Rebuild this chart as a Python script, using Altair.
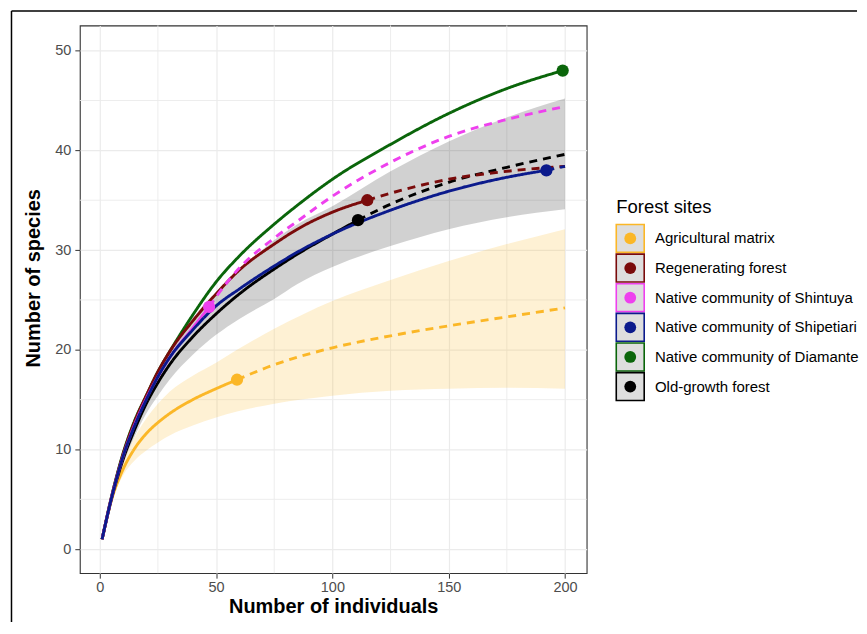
import altair as alt
import pandas as pd

FONT = "Liberation Sans"

SITES = ["Agricultural matrix", "Regenerating forest", "Native community of Shintuya",
         "Native community of Shipetiari", "Native community of Diamante", "Old-growth forest"]
COLORS = ["#FBB727", "#7A0B0B", "#EE40EE", "#0B1A8C", "#0A650A", "#000000"]

# Agricultural matrix
AGR_X_RARE = [1, 5, 10, 15, 20, 25, 30, 40, 50, 59]
AGR_Y_RARE = [1.0, 4.9, 8.0, 10.1, 11.6, 12.7, 13.6, 15.0, 16.1, 17.0]
AGR_X_EXT = [59, 75, 100, 125, 150, 175, 200]
AGR_Y_EXT = [17.0, 18.5, 20.2, 21.4, 22.4, 23.3, 24.2]

# Regenerating forest
REG_X_RARE = [1, 5, 10, 15, 20, 25, 30, 40, 50, 60, 75, 85, 100, 115]
REG_Y_RARE = [1.0, 5.2, 9.5, 12.8, 15.4, 17.8, 19.8, 22.9, 25.6, 28.0, 30.6, 32.1, 33.8, 35.0]
REG_X_EXT = [115, 125, 150, 175, 200]
REG_Y_EXT = [35.0, 35.7, 37.1, 37.9, 38.4]

# Native community of Shintuya
SHN_X_RARE = [1, 5, 10, 15, 20, 25, 30, 40, 47]
SHN_Y_RARE = [1.0, 5.1, 9.3, 12.5, 15.1, 17.3, 19.2, 22.2, 24.3]
SHN_X_EXT = [47, 50, 60, 75, 85, 100, 125, 150, 175, 200]
SHN_Y_EXT = [24.3, 25.3, 28.2, 31.2, 32.9, 35.4, 38.8, 41.4, 43.1, 44.4]

# Native community of Shipetiari
SHP_X_RARE = [1, 5, 10, 15, 20, 25, 30, 40, 50, 60, 75, 85, 100, 125, 150, 175, 192]
SHP_Y_RARE = [1.0, 5.1, 9.3, 12.4, 15.0, 17.3, 19.2, 22.0, 24.4, 26.1, 28.4, 29.8, 31.6, 34.0, 35.9, 37.3, 38.0]
SHP_X_EXT = [192, 200]
SHP_Y_EXT = [38.0, 38.4]

# Native community of Diamante
DIA_X_RARE = [1, 5, 10, 15, 20, 25, 30, 40, 50, 60, 75, 85, 100, 125, 150, 175, 199]
DIA_Y_RARE = [1.0, 5.2, 9.6, 12.9, 15.4, 17.8, 19.8, 23.5, 26.8, 29.4, 32.6, 34.5, 37.1, 40.6, 43.7, 46.2, 48.0]
DIA_X_EXT = [199]
DIA_Y_EXT = [48.0]

# Old-growth forest
OLD_X_RARE = [1, 5, 10, 15, 20, 25, 30, 40, 50, 60, 75, 85, 100, 111]
OLD_Y_RARE = [1.0, 5.0, 9.0, 12.0, 14.6, 16.7, 18.5, 21.3, 23.6, 25.6, 28.1, 29.6, 31.6, 33.0]
OLD_X_EXT = [111, 125, 150, 175, 200]
OLD_Y_EXT = [33.0, 34.6, 36.8, 38.3, 39.6]

# Observed sample points
OBS_X = [59, 115, 47, 192, 199, 111]
OBS_Y = [17.0, 35.0, 24.3, 38.0, 48.0, 33.0]

# Confidence ribbons
GREY_X = [1, 5, 10, 15, 20, 25, 30, 40, 50, 60, 75, 85, 100, 125, 150, 175, 200]
GREY_LO = [1.0, 4.8, 8.5, 11.3, 13.6, 15.4, 17.0, 19.5, 21.5, 23.1, 25.1, 26.6, 28.3, 30.4, 32.1, 33.3, 34.1]
GREY_HI = [1.0, 5.2, 9.5, 12.8, 15.6, 17.9, 20.0, 23.2, 25.8, 27.9, 31.0, 32.6, 34.4, 37.9, 40.9, 43.3, 45.2]

YEL_X = [1, 5, 10, 15, 20, 25, 30, 40, 50, 59, 75, 100, 125, 150, 175, 200]
YEL_LO = [1.0, 4.7, 7.4, 8.9, 9.9, 10.7, 11.4, 12.4, 13.2, 13.8, 14.6, 15.4, 15.9, 16.1, 16.2, 16.1]
YEL_HI = [1.0, 5.1, 8.7, 11.2, 13.1, 14.6, 15.8, 17.4, 18.7, 20.0, 22.1, 24.9, 27.0, 28.9, 30.6, 32.1]

X_TICKS = [0, 50, 100, 150, 200]
X_MINOR = [25, 75, 125, 175]
Y_TICKS = [0, 10, 20, 30, 40, 50]
Y_MINOR = [5, 15, 25, 35, 45]

SERIES = {
    SITES[0]: (AGR_X_RARE, AGR_Y_RARE, AGR_X_EXT, AGR_Y_EXT),
    SITES[1]: (REG_X_RARE, REG_Y_RARE, REG_X_EXT, REG_Y_EXT),
    SITES[2]: (SHN_X_RARE, SHN_Y_RARE, SHN_X_EXT, SHN_Y_EXT),
    SITES[3]: (SHP_X_RARE, SHP_Y_RARE, SHP_X_EXT, SHP_Y_EXT),
    SITES[4]: (DIA_X_RARE, DIA_Y_RARE, DIA_X_EXT, DIA_Y_EXT),
    SITES[5]: (OLD_X_RARE, OLD_Y_RARE, OLD_X_EXT, OLD_Y_EXT),
}

rows = []
for s in SITES:
    xr, yr, xe, ye = SERIES[s]
    for x, y in zip(xr, yr):
        rows.append({"site": s, "part": "Rarefaction", "x": x, "y": y})
    if len(xe) > 1:
        for x, y in zip(xe, ye):
            rows.append({"site": s, "part": "Extrapolation", "x": x, "y": y})
lines_df = pd.DataFrame(rows)
obs_df = pd.DataFrame({"site": SITES, "x": OBS_X, "y": OBS_Y})
grey_df = pd.DataFrame({"x": GREY_X, "lo": GREY_LO, "hi": GREY_HI})
yel_df = pd.DataFrame({"x": YEL_X, "lo": YEL_LO, "hi": YEL_HI})
legend_df = pd.DataFrame({"site": SITES, "row": list(range(len(SITES)))})
legend_title_df = pd.DataFrame({"row": [-0.86], "label": ["Forest sites"]})

XS = alt.Scale(domain=[-8.57, 209.3], nice=False, zero=False)
YS = alt.Scale(domain=[-2.4, 52.53], nice=False, zero=False)
CS = alt.Scale(domain=SITES, range=COLORS)
DS = alt.Scale(domain=["Rarefaction", "Extrapolation"], range=[[1, 0], [8, 6]])

XAXIS = alt.Axis(title="Number of individuals", values=X_TICKS, format="d", grid=True,
                 gridColor="#EBEBEB", gridWidth=1.2, domain=False, tickColor="#333333",
                 tickSize=5, tickWidth=1, labelFont=FONT, labelFontSize=14.5,
                 labelColor="#4D4D4D", labelPadding=2, labelFlush=False, labelOverlap=False,
                 titleFont=FONT, titleFontSize=20, titleFontWeight="bold", titleColor="#000000",
                 titleY=23)
YAXIS = alt.Axis(title="Number of species", values=Y_TICKS, format="d", grid=True,
                 gridColor="#EBEBEB", gridWidth=1.2, domain=False, tickColor="#333333",
                 tickSize=5, tickWidth=1, labelFont=FONT, labelFontSize=14.5,
                 labelColor="#4D4D4D", labelPadding=4, labelFlush=False, labelOverlap=False,
                 titleFont=FONT, titleFontSize=20, titleFontWeight="bold", titleColor="#000000",
                 titleX=-36, titleY=253)


def xenc(f):
    return alt.X(f"{f}:Q", scale=XS, axis=XAXIS)


def yenc(f):
    return alt.Y(f"{f}:Q", scale=YS, axis=YAXIS)


minor_x = alt.Chart(pd.DataFrame({"gx": X_MINOR})).mark_rule(
    color="#EBEBEB", strokeWidth=0.9).encode(x=xenc("gx"))
minor_y = alt.Chart(pd.DataFrame({"gy": Y_MINOR})).mark_rule(
    color="#EBEBEB", strokeWidth=0.9).encode(y=yenc("gy"))

grey_area = alt.Chart(grey_df).mark_area(
    color="#000000", opacity=0.18, interpolate="monotone").encode(
    x=xenc("x"), y=yenc("lo"), y2=alt.Y2("hi:Q"))
yel_area = alt.Chart(yel_df).mark_area(
    color="#FBB727", opacity=0.2, interpolate="monotone").encode(
    x=xenc("x"), y=yenc("lo"), y2=alt.Y2("hi:Q"))

draw_order = [SITES[0], SITES[5], SITES[4], SITES[1], SITES[2], SITES[3]]
line_layers = []
for s in draw_order:
    line_layers.append(
        alt.Chart(lines_df).transform_filter(alt.datum.site == s).mark_line(
            strokeWidth=2.9, interpolate="monotone").encode(
            x=xenc("x"), y=yenc("y"),
            color=alt.Color("site:N", scale=CS, legend=None),
            strokeDash=alt.StrokeDash("part:N", scale=DS, legend=None))
    )

points = alt.Chart(obs_df).mark_circle(size=150, opacity=1).encode(
    x=xenc("x"), y=yenc("y"), color=alt.Color("site:N", scale=CS, legend=None))

main = alt.layer(minor_x, minor_y, grey_area, yel_area, *line_layers, points)

LYS = alt.Scale(domain=[-7.189, 11.296], reverse=True, nice=False, zero=False)
ly = alt.Y("row:Q", scale=LYS, axis=None)

boxes = alt.Chart(legend_df).mark_square(size=784, fill="#DEDEDE", fillOpacity=1,
                                         strokeWidth=1.6).encode(
    x=alt.value(551.7), y=ly, stroke=alt.Stroke("site:N", scale=CS, legend=None))
dots = alt.Chart(legend_df).mark_circle(size=140, opacity=1).encode(
    x=alt.value(551.7), y=ly, color=alt.Color("site:N", scale=CS, legend=None))
labels = alt.Chart(legend_df).mark_text(align="left", baseline="middle", font=FONT,
                                        fontSize=15, color="#000000").encode(
    x=alt.value(576.5), y=ly, text="site:N")
ltitle = alt.Chart(legend_title_df).mark_text(align="left", baseline="alphabetic", font=FONT,
                                              fontSize=18.5, color="#000000").encode(
    x=alt.value(537.7), y=ly, text="label:N")

one = pd.DataFrame({"k": [0]})
border_left = alt.Chart(one).mark_rule(color="#000000", strokeWidth=1.5).encode(
    x=alt.value(-68.5), y=alt.value(-14.5), y2=alt.value(598))
border_top = alt.Chart(one).mark_rule(color="#000000", strokeWidth=1.5).encode(
    x=alt.value(-68.5), x2=alt.value(779), y=alt.value(-14.5))

legend = alt.layer(boxes, dots, labels, ltitle, border_left, border_top)

chart = alt.layer(main, legend).resolve_scale(y="independent").properties(
    width=508, height=549,
    padding={"left": 2, "top": 0.75, "right": 0, "bottom": 0},
    background="#FFFFFF",
).configure_view(stroke="#333333", strokeWidth=1.1)

chart.save("out.html", embed_options={"renderer": "svg", "actions": False})
